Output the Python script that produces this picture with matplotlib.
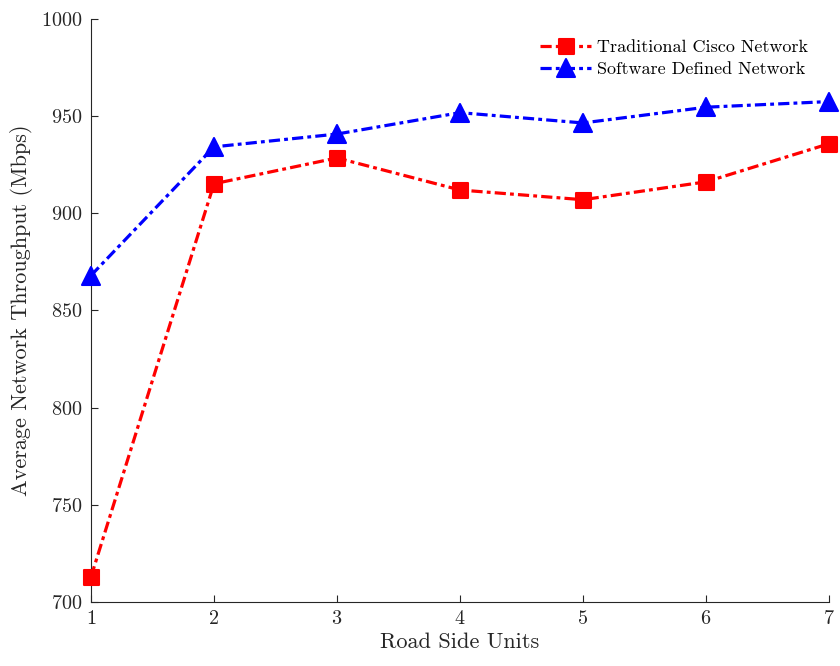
import numpy as np
import matplotlib.pyplot as plt
from matplotlib.markers import MarkerStyle

plt.rcParams['font.family'] = ['cmr10', 'DejaVu Serif']
plt.rcParams['mathtext.fontset'] = 'cm'
plt.rcParams['axes.formatter.use_mathtext'] = True

# 数据
rsu = [1, 2, 3, 4, 5, 6, 7]
cisco = [712.9, 915.2, 928.5, 912.0, 907.0, 916.2, 935.8]
sdn = [868.0, 934.2, 940.8, 951.8, 946.5, 954.6, 957.5]

fig = plt.figure(figsize=(8.4, 6.66), dpi=100)
ax = fig.add_axes([0.1083, 0.0961, 0.8786, 0.8754])

sq = MarkerStyle('s', joinstyle='round')
tri = MarkerStyle('^', joinstyle='round')
dashdot = (0, (3.5, 1.3, 1.2, 1.3))

ax.plot(rsu, cisco, color='red', linestyle=dashdot, linewidth=2.3,
        marker=sq, markersize=10.8, markeredgewidth=1.5, markeredgecolor='red',
        label='Traditional Cisco Network', clip_on=False, zorder=3)
ax.plot(rsu, sdn, color='blue', linestyle=dashdot, linewidth=2.3,
        marker=tri, markersize=13, markeredgewidth=1.5, markeredgecolor='blue',
        label='Software Defined Network', clip_on=False, zorder=3)

ax.set_xlim(1, 7)
ax.set_ylim(700, 1000)
ax.set_xticks(rsu)
ax.set_yticks(np.arange(700, 1001, 50))

for s in ['top', 'right']:
    ax.spines[s].set_visible(False)
for s in ['left', 'bottom']:
    ax.spines[s].set_color('#262626')
    ax.spines[s].set_linewidth(0.8)
ax.tick_params(direction='in', length=5, width=0.8, color='#262626',
               labelsize=14.5, labelcolor='#262626', pad=6)

ax.set_xlabel('Road Side Units', fontsize=16, color='#262626', labelpad=3)
ax.set_ylabel('Average Network Throughput (Mbps)', fontsize=16, color='#262626', labelpad=6)

ax.legend(loc='upper right', frameon=False, fontsize=13, handlelength=2.8,
          handletextpad=0.35, labelspacing=0.35, borderaxespad=0.75)

fig.savefig('out.png', dpi=100)
